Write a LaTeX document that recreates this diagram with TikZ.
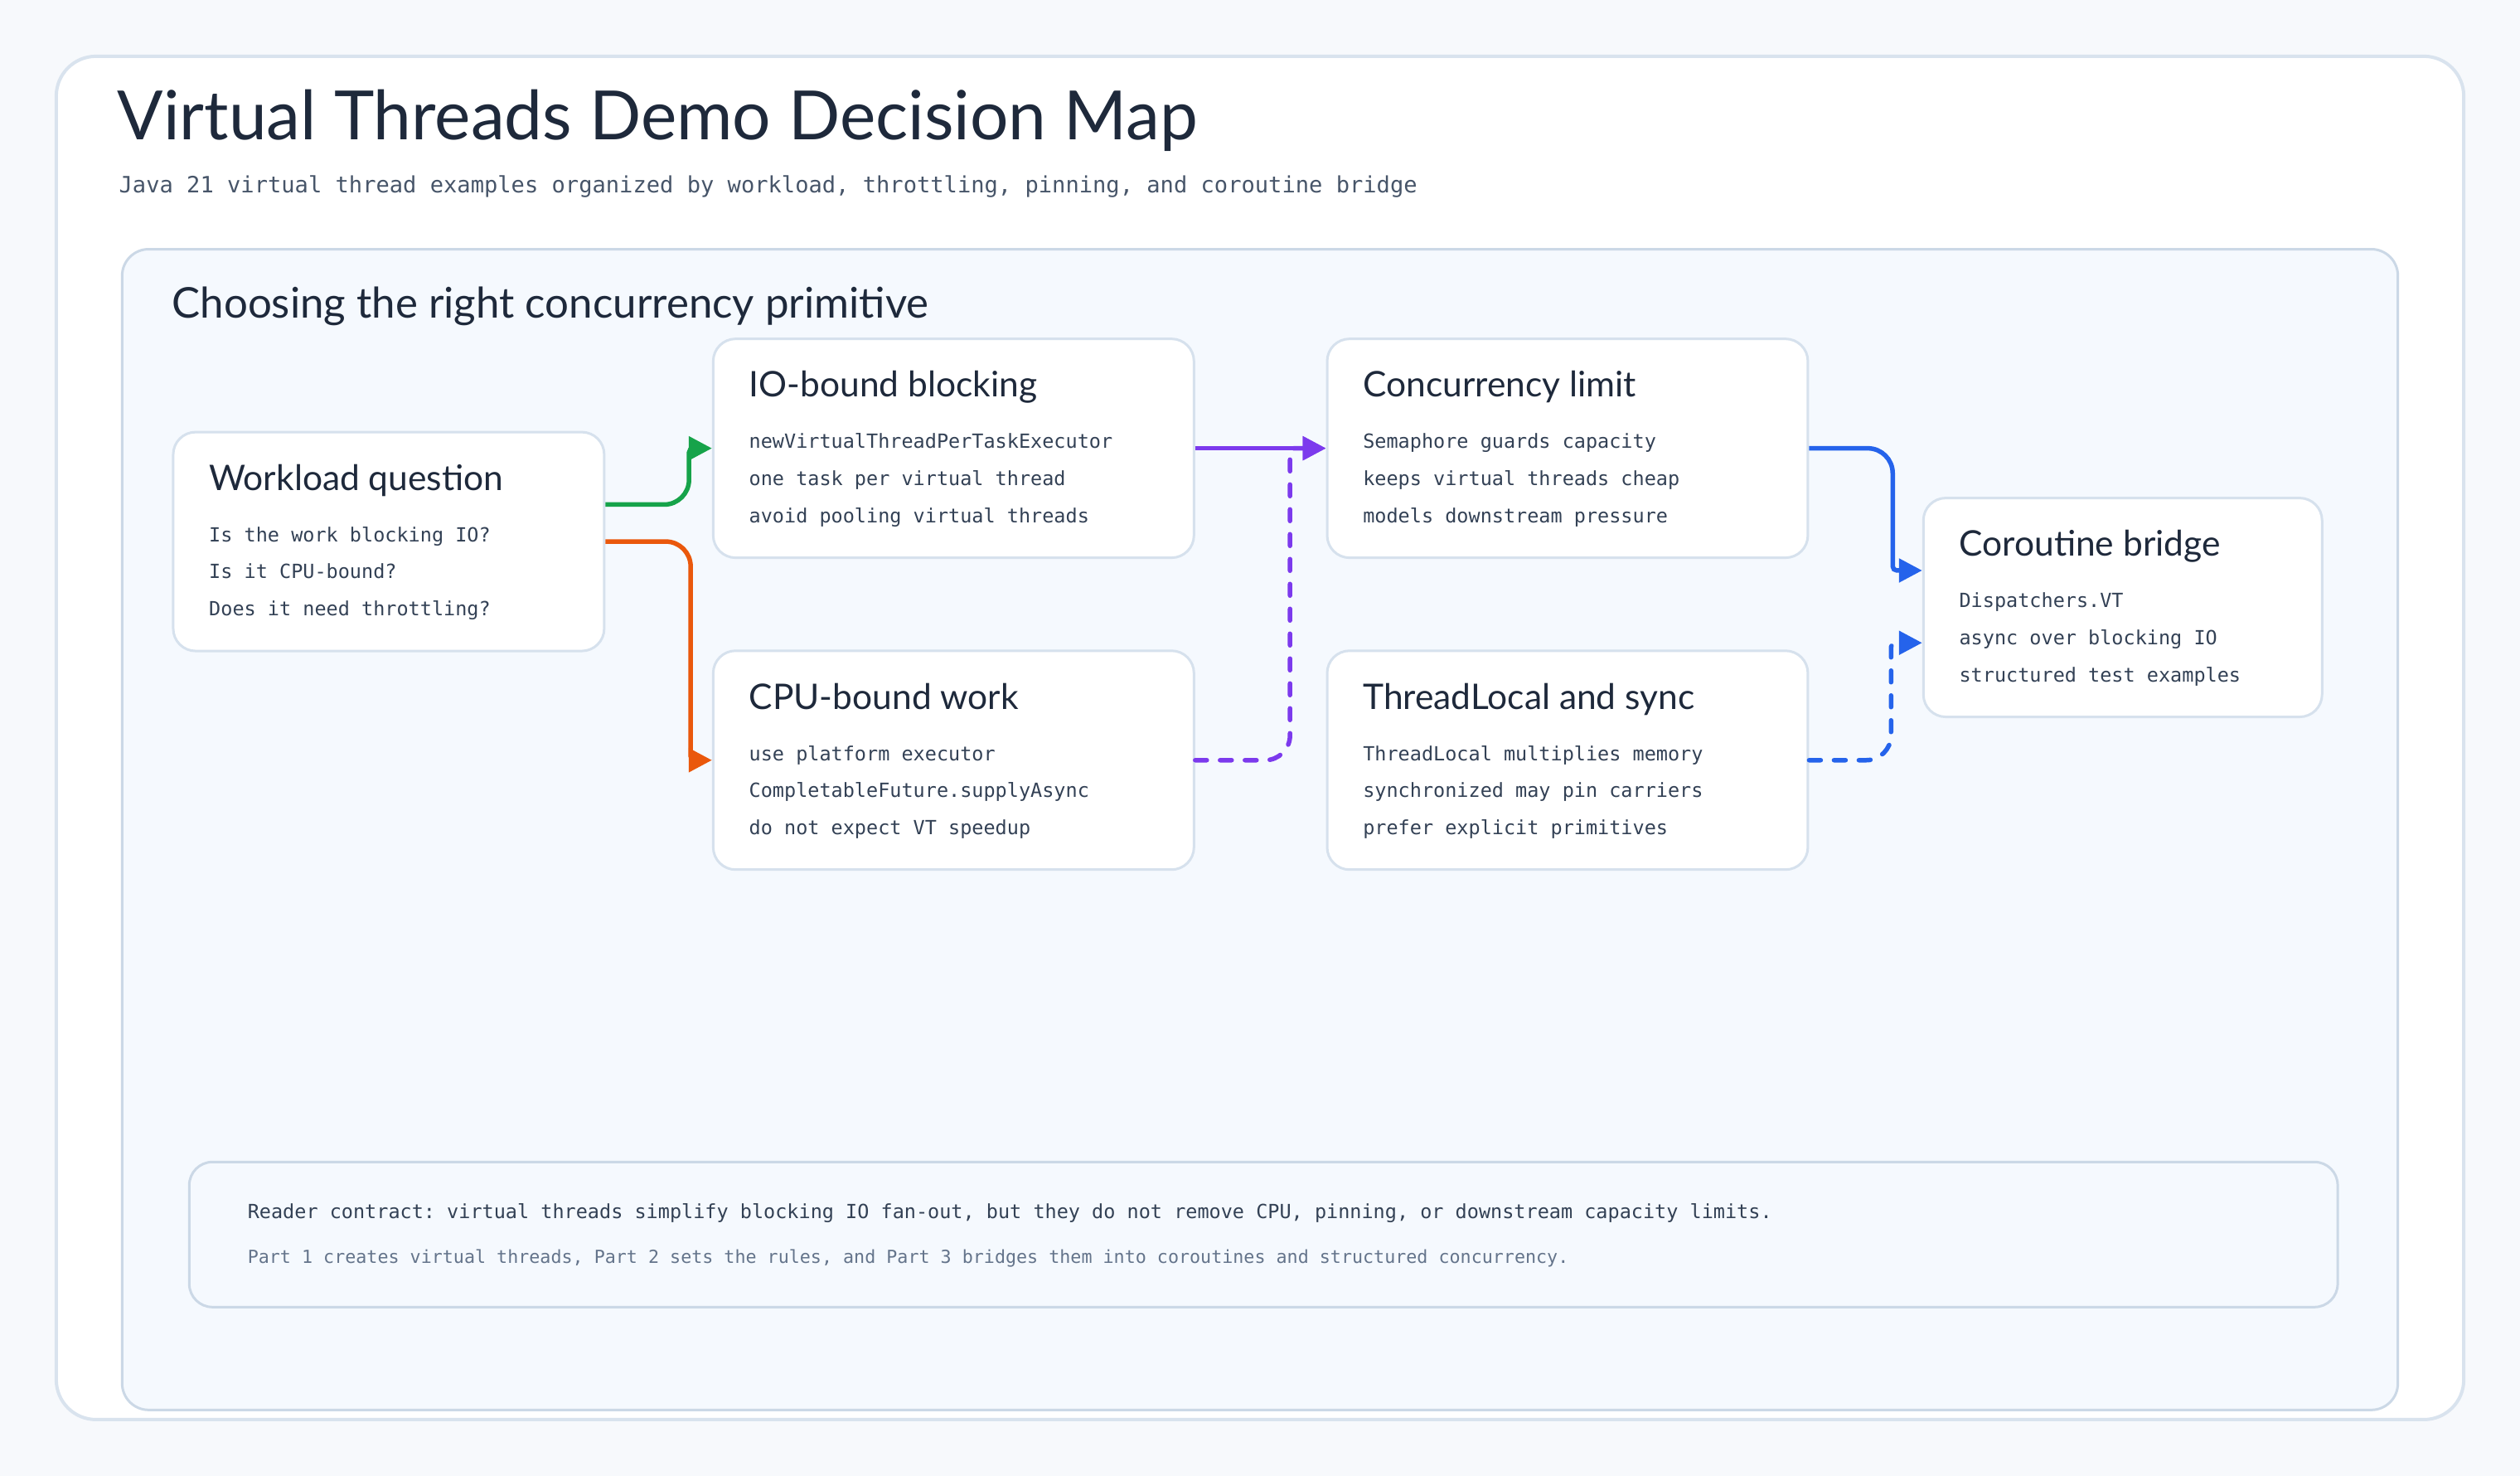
\documentclass[tikz,border=0pt]{standalone}
\usepackage{fontspec}
\setmainfont{Lato}
\setmonofont{DejaVu Sans Mono}
\usetikzlibrary{arrows.meta,calc}

\definecolor{pagebg}{HTML}{F7F9FC}
\definecolor{frameline}{HTML}{D9E3EE}
\definecolor{panelfill}{HTML}{F5F9FE}
\definecolor{panelline}{HTML}{CBD8E6}
\definecolor{cardline}{HTML}{D6E1ED}
\definecolor{ink}{HTML}{1E293B}
\definecolor{bodyink}{HTML}{334155}
\definecolor{subink}{HTML}{475569}
\definecolor{noteink}{HTML}{64748B}
\definecolor{flowgreen}{HTML}{16A34A}
\definecolor{floworange}{HTML}{EA580C}
\definecolor{flowpurple}{HTML}{7C3AED}
\definecolor{flowblue}{HTML}{2563EB}

\tikzset{
  card/.style={draw=cardline, line width=3pt, fill=white, rounded corners=27pt,
    minimum height=264pt, anchor=north west, inner sep=0pt},
  cardtitle/.style={anchor=base west, inner sep=0pt, text=ink,
    font=\fontsize{42.5}{50}\selectfont},
  cardbody/.style={anchor=base west, inner sep=0pt, align=left, text=bodyink,
    font=\ttfamily\fontsize{23.5}{44.6}\selectfont},
  flow/.style={line width=5.5pt, -{Triangle[length=28pt,width=28pt]}},
  dashflow/.style={flow, dash pattern=on 14pt off 16pt, line cap=round},
}

\begin{document}
\begin{tikzpicture}[x=1.939pt,y=-1.939pt]
      % page and frames
      \fill[pagebg] (0,0) rectangle (1568,918);
      \useasboundingbox (0,0) rectangle (1568,918);
      \draw[frameline, line width=4pt, fill=white, rounded corners=48pt]
        (35,35) rectangle (1533,883);
      \draw[panelline, line width=3pt, fill=panelfill, rounded corners=32pt]
        (76,155) rectangle (1492,877);

      \node[anchor=base west, inner sep=0pt, text=ink, font=\fontsize{82}{94}\selectfont]
        (title) at (73,87) {Virtual Threads Demo Decision Map};
      \node[anchor=base west, inner sep=0pt, text=subink, font=\ttfamily\fontsize{27.1}{32}\selectfont]
        (subtitle) at (74,120) {Java 21 virtual thread examples organized by workload, throttling, pinning, and coroutine bridge};
      \node[anchor=base west, inner sep=0pt, text=ink, font=\fontsize{51}{60}\selectfont]
        (heading) at (107,198) {Choosing the right concurrency primitive};

      % cards
      \node[card, minimum width=520pt] (wq) at (107,268) {};
      \node[card, minimum width=580pt] (io) at (443,210) {};
      \node[card, minimum width=580pt] (cpu) at (443,404) {};
      \node[card, minimum width=580pt] (conc) at (825,210) {};
      \node[card, minimum width=580pt] (tl) at (825,404) {};
      \node[card, minimum width=481pt] (cor) at (1196,309) {};

      \node[cardtitle] (wqtitle) at ($(wq.north west)+(23,37)$) {Workload question};
      \node[cardbody] (wqbody) at ($(wq.north west)+(23,115)$)
        {Is the work blocking IO?\\Is it CPU-bound?\\Does it need throttling?};
      \node[cardtitle] (iotitle) at ($(io.north west)+(23,37)$) {IO-bound blocking};
      \node[cardbody] (iobody) at ($(io.north west)+(23,115)$)
        {newVirtualThreadPerTaskExecutor\\one task per virtual thread\\avoid pooling virtual threads};
      \node[cardtitle] (cputitle) at ($(cpu.north west)+(23,37)$) {CPU-bound work};
      \node[cardbody] (cpubody) at ($(cpu.north west)+(23,115)$)
        {use platform executor\\CompletableFuture.supplyAsync\\do not expect VT speedup};
      \node[cardtitle] (conctitle) at ($(conc.north west)+(23,37)$) {Concurrency limit};
      \node[cardbody] (concbody) at ($(conc.north west)+(23,115)$)
        {Semaphore guards capacity\\keeps virtual threads cheap\\models downstream pressure};
      \node[cardtitle] (tltitle) at ($(tl.north west)+(23,37)$) {ThreadLocal and sync};
      \node[cardbody] (tlbody) at ($(tl.north west)+(23,115)$)
        {ThreadLocal multiplies memory\\synchronized may pin carriers\\prefer explicit primitives};
      \node[cardtitle] (cortitle) at ($(cor.north west)+(23,37)$) {Coroutine bridge};
      \node[cardbody] (corbody) at ($(cor.north west)+(23,115)$)
        {Dispatchers.VT\\async over blocking IO\\structured test examples};

      % connectors
      \coordinate (wqhi) at ($(wq.east)+(0,-23)$);
      \coordinate (corhi) at ($(cor.west)+(0,-23)$);
      \coordinate (corlo) at ($(cor.west)+(0,22)$);
      \draw[flow, flowgreen] (wqhi) [rounded corners=30pt] -- ++(52,0) [rounded corners=5pt] |- (io.west);
      \draw[flow, floworange] (wq.east) [rounded corners=30pt] -- ++(53,0) [rounded corners=5pt] |- (cpu.west);
      \draw[flow, flowpurple] (io.east) -- (conc.west);
      \draw[dashflow, flowpurple] (cpu.east) [rounded corners=30pt] -- ++(59,0) [rounded corners=5pt] |- (conc.west);
      \draw[flow, flowblue] (conc.east) [rounded corners=30pt] -- ++(52,0) [rounded corners=5pt] |- (corhi);
      \draw[dashflow, flowblue] (tl.east) [rounded corners=30pt] -- ++(51,0) [rounded corners=5pt] |- (corlo);

      % reader note
      \node[draw=panelline, line width=3pt, fill=panelfill, rounded corners=28pt,
        anchor=north west, inner sep=0pt, minimum width=2592pt, minimum height=175pt]
        (note) at (117,722) {};
      \node[anchor=base west, inner sep=0pt, text=bodyink, font=\ttfamily\fontsize{23.5}{28}\selectfont]
        (notemain) at ($(note.north west)+(37,36)$)
        {Reader contract: virtual threads simplify blocking IO fan-out, but they do not remove CPU, pinning, or downstream capacity limits.};
      \node[anchor=base west, inner sep=0pt, text=noteink, font=\ttfamily\fontsize{21.7}{26}\selectfont]
        (notesub) at ($(note.north west)+(37,64)$)
        {Part 1 creates virtual threads, Part 2 sets the rules, and Part 3 bridges them into coroutines and structured concurrency.};
    \end{tikzpicture}
\end{document}
